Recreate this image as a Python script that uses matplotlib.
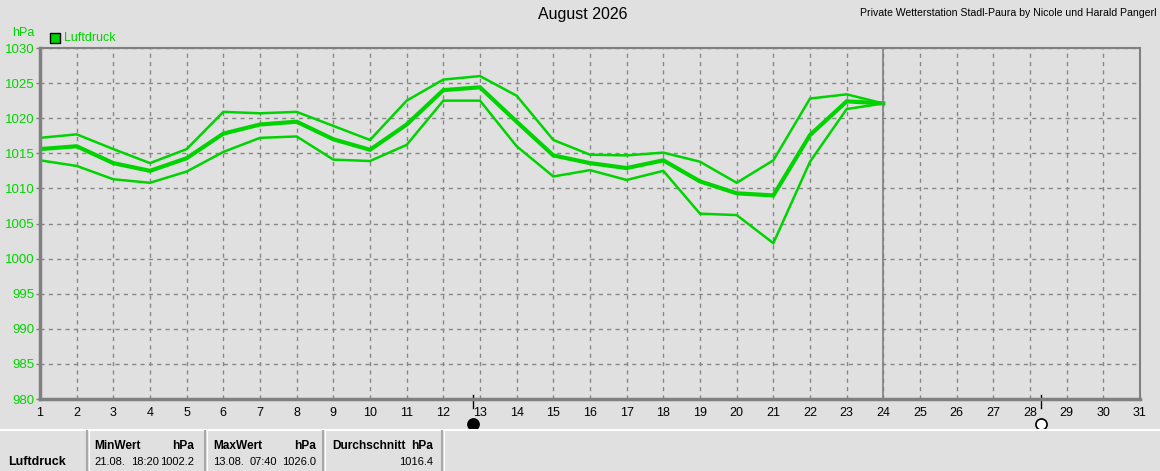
import numpy as np
import matplotlib
matplotlib.use("Agg")
import matplotlib.pyplot as plt
from matplotlib.lines import Line2D
import matplotlib.transforms as mtransforms

# daily pressure values (hPa), August 2026, days 1..24
days = list(range(1, 25))
p_max = [1017.2, 1017.7, 1015.6, 1013.6, 1015.6, 1020.9, 1020.7, 1020.9, 1018.9, 1016.9,
         1022.5, 1025.5, 1026.0, 1023.2, 1016.9, 1014.8, 1014.7, 1015.1, 1013.8, 1010.8,
         1014.0, 1022.8, 1023.4, 1022.1]
p_mean = [1015.6, 1016.0, 1013.6, 1012.5, 1014.3, 1017.8, 1019.1, 1019.5, 1017.0, 1015.5,
          1019.1, 1024.0, 1024.4, 1019.5, 1014.7, 1013.6, 1012.9, 1014.0, 1011.0, 1009.3,
          1009.0, 1017.6, 1022.4, 1022.1]
p_min = [1014.0, 1013.2, 1011.3, 1010.8, 1012.4, 1015.2, 1017.2, 1017.4, 1014.1, 1013.9,
         1016.2, 1022.5, 1022.5, 1016.0, 1011.7, 1012.6, 1011.2, 1012.5, 1006.4, 1006.2,
         1002.2, 1013.8, 1021.3, 1022.1]

today = 24
new_moon = 12.8
full_moon = 28.3

table_head = ["MinWert", "MaxWert", "Durchschnitt"]
table_date = ["21.08.", "13.08.", ""]
table_time = ["18:20", "07:40", ""]
table_val = ["1002.2", "1026.0", "1016.4"]

green = '#00d400'
bg = '#e0e0e0'
grid_c = '#808080'

W, H = 1160, 471
fig = plt.figure(figsize=(W / 100, H / 100), dpi=100, facecolor=bg)
plt.rcParams['font.family'] = ['Liberation Sans', 'DejaVu Sans']

ax = fig.add_axes([40 / W, (H - 399) / H, 1100 / W, 351 / H])
ax.set_facecolor(bg)

ax.plot(days, p_max, color=green, lw=1.8, solid_joinstyle='miter')
ax.plot(days, p_min, color=green, lw=1.8, solid_joinstyle='miter')
ax.plot(days, p_mean, color=green, lw=3.0, solid_joinstyle='miter')

ax.set_xlim(1, 31)
ax.set_ylim(980, 1030)
ax.set_xticks(range(1, 32))
ax.set_yticks(range(980, 1031, 5))
ax.tick_params(axis='x', length=0, pad=6, labelsize=9, colors='black')
ax.tick_params(axis='y', length=3, width=1, color=grid_c, pad=1, labelsize=9.5, labelcolor=green)
ax.grid(True, linestyle=(0, (3, 3)), color='#888888', lw=1)
ax.axvline(today, color=grid_c, lw=1.2)
for s in ax.spines.values():
    s.set_color(grid_c)
    s.set_linewidth(1.5)
ax.spines['left'].set_linewidth(2.5)
ax.spines['bottom'].set_linewidth(2.5)

# moon phase markers below the axis
trans = mtransforms.blended_transform_factory(ax.transData, ax.transAxes)
for d, fc in [(new_moon, 'black'), (full_moon, 'white')]:
    ax.plot([d, d], [-0.027, 0.012], color='black', lw=1, transform=trans, clip_on=False)
    ax.plot(d, -0.07, 'o', ms=8, mfc=fc, mec='black', mew=1.2, transform=trans, clip_on=False)

# titles and legend
fig.text(583 / W, 1 - 15 / H, "August 2026", ha='center', va='center', fontsize=11.5)
fig.text(1157 / W, 1 - 13 / H, "Private Wetterstation Stadl-Paura by Nicole und Harald Pangerl",
         ha='right', va='center', fontsize=7.6)
fig.text(12 / W, 1 - 33 / H, "hPa", color=green, ha='left', va='center', fontsize=9)
fig.patches.append(plt.Rectangle((50 / W, 1 - 43 / H), 10 / W, 10 / H, transform=fig.transFigure,
                                 facecolor=green, edgecolor='black', lw=1))
fig.text(64 / W, 1 - 38 / H, "Luftdruck", color=green, ha='left', va='center', fontsize=9)

# stats table at the bottom
fig.add_artist(Line2D([0, 1], [1 - 430 / H, 1 - 430 / H], color='white', lw=1.5,
                      transform=fig.transFigure))
for xs in [87, 205, 323, 442]:
    fig.add_artist(Line2D([xs / W, xs / W], [0, 1 - 431 / H], color='#a8a8a8', lw=1.5,
                          transform=fig.transFigure))
    fig.add_artist(Line2D([(xs + 1.5) / W, (xs + 1.5) / W], [0, 1 - 431 / H], color='white', lw=0.8,
                          transform=fig.transFigure))
fig.text(8 / W, 1 - 462 / H, "Luftdruck", fontsize=9, fontweight='bold', va='center')
col_left = [94, 213, 332]
col_time = [131, 250, 0]
col_right = [194, 316, 433]
for i in range(3):
    fig.text(col_left[i] / W, 1 - 446 / H, table_head[i], fontsize=8.6, fontweight='bold', va='center')
    fig.text(col_right[i] / W, 1 - 446 / H, "hPa", fontsize=8.6, fontweight='bold', va='center', ha='right')
    if table_date[i]:
        fig.text(col_left[i] / W, 1 - 462 / H, table_date[i], fontsize=8, va='center')
        fig.text(col_time[i] / W, 1 - 462 / H, table_time[i], fontsize=8, va='center')
    fig.text(col_right[i] / W, 1 - 462 / H, table_val[i], fontsize=8, va='center', ha='right')

fig.savefig('out.png', dpi=100, facecolor=bg)
